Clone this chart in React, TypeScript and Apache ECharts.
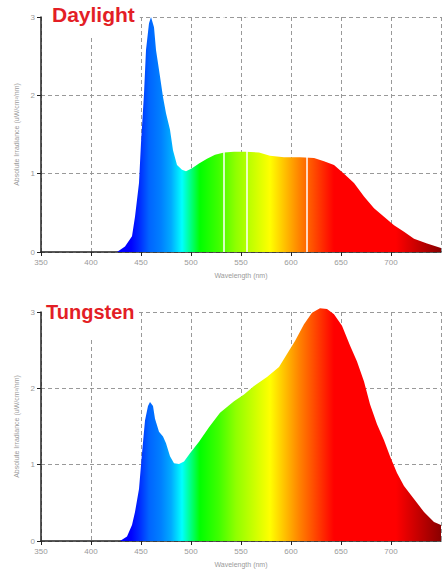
import React, { useEffect, useRef } from "react";
import * as echarts from "echarts";

const xTicks = [350, 400, 450, 500, 550, 600, 650, 700, 750];
const yTicks = [0, 1, 2, 3];

const daylightNm = [350, 420, 426, 434, 441, 444, 448, 450, 453, 455, 458, 460, 463, 465, 469, 472, 475, 479, 482, 486, 491, 495, 501, 508, 516, 524, 533, 543, 554, 568, 579, 593, 609, 623, 633, 643, 653, 663, 673, 683, 693, 703, 713, 723, 736, 750];
const daylightVal = [0, 0, 0, 0.07, 0.2, 0.45, 0.88, 1.39, 2.02, 2.58, 2.92, 3.0, 2.87, 2.58, 2.24, 1.98, 1.77, 1.56, 1.3, 1.11, 1.05, 1.03, 1.07, 1.13, 1.19, 1.24, 1.27, 1.28, 1.28, 1.27, 1.23, 1.21, 1.21, 1.2, 1.16, 1.11, 1.0, 0.88, 0.71, 0.56, 0.45, 0.34, 0.26, 0.17, 0.11, 0.05];
const daylightGaps = [533, 556, 616];

const tungstenNm = [350, 429, 436, 441, 444, 448, 451, 454, 457, 459, 462, 464, 468, 472, 475, 479, 483, 488, 493, 499, 508, 518, 529, 543, 553, 563, 576, 588, 596, 604, 613, 621, 629, 636, 643, 651, 659, 666, 673, 679, 686, 693, 699, 706, 713, 723, 733, 743, 750];
const tungstenVal = [0, 0, 0.06, 0.21, 0.38, 0.68, 1.15, 1.58, 1.77, 1.82, 1.77, 1.6, 1.43, 1.37, 1.28, 1.11, 1.02, 1.01, 1.04, 1.15, 1.3, 1.49, 1.68, 1.83, 1.92, 2.03, 2.15, 2.28, 2.45, 2.62, 2.84, 2.99, 3.05, 3.04, 2.97, 2.82, 2.56, 2.35, 2.09, 1.79, 1.53, 1.32, 1.11, 0.89, 0.72, 0.55, 0.38, 0.25, 0.21];

const spectrumNm = [350, 440, 448, 458, 470, 480, 491, 509, 528, 545, 579, 609, 643, 705, 750];
const spectrumColor = ["#0000ff", "#0000ff", "#0028ff", "#0064ff", "#0080ff", "#00aaff", "#00ffff", "#00ff00", "#40ff00", "#90ff00", "#ffff00", "#ff8000", "#ff0000", "#ff0000", "#8a0000"];

const FONT = "Liberation Sans";

function gradient() {
  const xmin = xTicks[0];
  const xmax = xTicks[xTicks.length - 1];
  return new echarts.graphic.LinearGradient(
    0, 0, 1, 0,
    spectrumNm.map((nm, i) => ({ offset: (nm - xmin) / (xmax - xmin), color: spectrumColor[i] }))
  );
}

function xAxisCfg(gridIndex: number) {
  return {
    type: "value",
    gridIndex,
    min: xTicks[0],
    max: xTicks[xTicks.length - 1],
    interval: 50,
    name: "Wavelength (nm)",
    nameLocation: "middle",
    nameGap: 20,
    nameTextStyle: { fontSize: 7, color: "#9a9a9a", fontFamily: FONT },
    axisLine: { show: true, lineStyle: { color: "#222", width: 1.5 } },
    axisTick: { show: true, length: 4, lineStyle: { color: "#222" } },
    axisLabel: { fontSize: 8, color: "#9a9a9a", margin: 6, showMaxLabel: false, fontFamily: FONT },
    splitLine: { show: true, lineStyle: { color: "#999", width: 1, type: [4, 3] } },
  };
}

function yAxisCfg(gridIndex: number) {
  return {
    type: "value",
    gridIndex,
    min: yTicks[0],
    max: yTicks[yTicks.length - 1],
    interval: 1,
    name: "Absolute Irradiance (uW/cm²/nm)",
    nameLocation: "middle",
    nameRotate: 90,
    nameGap: 16,
    nameTextStyle: { fontSize: 7, color: "#9a9a9a", fontFamily: FONT },
    axisLine: { show: true, lineStyle: { color: "#222", width: 1.5 } },
    axisTick: { show: true, length: 4, lineStyle: { color: "#222" } },
    axisLabel: { fontSize: 8, color: "#9a9a9a", margin: 6, fontFamily: FONT },
    splitLine: { show: true, lineStyle: { color: "#999", width: 1, type: [4, 3] } },
  };
}

export default function App() {
  const ref = useRef<HTMLDivElement>(null);
  useEffect(() => {
    if (!ref.current) return;
    const chart = echarts.init(ref.current, undefined, { renderer: "svg" });
    const titleStyle = (size: number) => ({
      fontSize: size,
      fontWeight: "bold",
      color: "#e31e26",
      fontFamily: FONT,
      lineHeight: 24,
    });
    chart.setOption({
      animation: false,
      backgroundColor: "#fff",
      title: [
        {
          text: "Daylight",
          left: 42,
          top: 0,
          padding: [2.5, 5, 11.5, 10],
          backgroundColor: "#fff",
          textStyle: titleStyle(21),
        },
        {
          text: "Tungsten",
          left: 42,
          top: 297,
          padding: [2.5, 3, 13.5, 4],
          backgroundColor: "#fff",
          textStyle: titleStyle(20),
        },
      ],
      grid: [
        { left: 41, right: 4, top: 17, height: 235 },
        { left: 41, right: 4, top: 312, height: 234 },
      ],
      xAxis: [xAxisCfg(0), xAxisCfg(1)],
      yAxis: [yAxisCfg(0), yAxisCfg(1)],
      series: [
        {
          type: "line",
          xAxisIndex: 0,
          yAxisIndex: 0,
          data: daylightNm.map((nm, i) => [nm, daylightVal[i]]),
          symbol: "none",
          clip: false,
          lineStyle: { width: 0, opacity: 0 },
          areaStyle: { color: gradient(), opacity: 1 },
          markLine: {
            silent: true,
            symbol: ["none", "none"],
            label: { show: false },
            lineStyle: { color: "#fff", width: 1.5, type: "solid" },
            data: daylightGaps.map((v) => ({ xAxis: v })),
          },
        },
        {
          type: "line",
          xAxisIndex: 1,
          yAxisIndex: 1,
          data: tungstenNm.map((nm, i) => [nm, tungstenVal[i]]),
          symbol: "none",
          clip: false,
          lineStyle: { width: 0, opacity: 0 },
          areaStyle: { color: gradient(), opacity: 1 },
        },
      ],
    });
    return () => chart.dispose();
  }, []);
  return (
    <div
      ref={ref}
      style={{ position: "fixed", left: 0, top: 0, width: 445, height: 569, background: "#fff" }}
    />
  );
}
